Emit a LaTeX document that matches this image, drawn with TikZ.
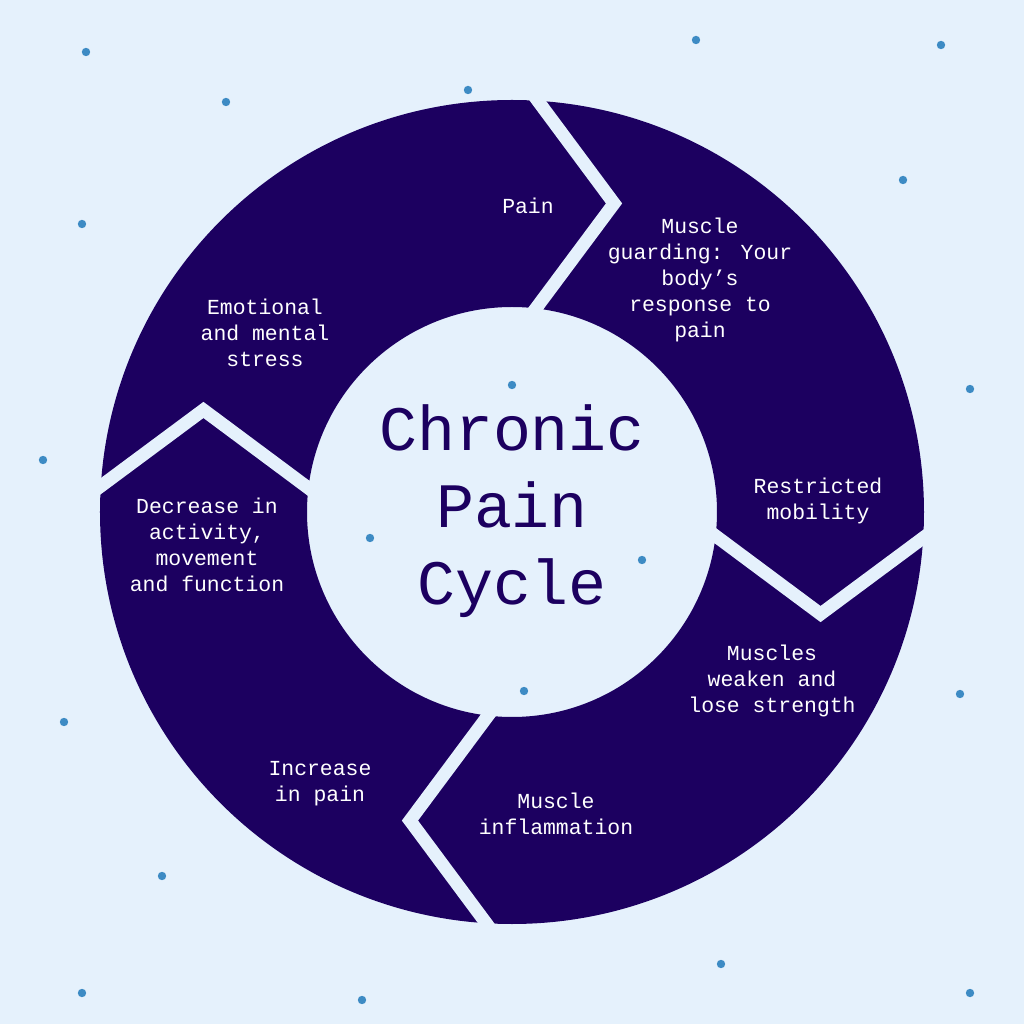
\documentclass[tikz,border=0pt]{standalone}
\usepackage{fontspec}
\setmainfont{Liberation Mono}
\usetikzlibrary{calc}
\definecolor{bgblue}{HTML}{E5F1FC}
\definecolor{ringnavy}{HTML}{1C0060}
\definecolor{dotblue}{HTML}{3D8BC4}

\begin{document}
\begin{tikzpicture}[%
        x=0.02cm, y=0.02cm,
        steptext/.style={text=white, font=\fontsize{12.2}{14.7}\selectfont, align=center, inner sep=0pt},
        titletext/.style={text=ringnavy, font=\fontsize{36}{43.7}\selectfont, align=center, inner sep=0pt},
        gapline/.style={draw=bgblue, line width=7.4pt, line join=miter}
      ]
      \fill[bgblue] (-512,-512) rectangle (512,512);
      \useasboundingbox (-512,-512) rectangle (512,512);
      \coordinate (c) at (0,0);
      % background dots
      \foreach \p in {(-426,460),(-286,410),(-44,422),(184,472),(429,467),(391,332),
        (-430,288),(458,123),(-469,52),(0,127),(-142,-26),(130,-48),(12,-179),
        (-448,-210),(448,-182),(-350,-364),(209,-452),(-430,-481),(-150,-488),(458,-481)}
        \fill[dotblue] \p circle (4.2);
      % ring and the four chevron gaps
      \fill[ringnavy, even odd rule] (c) circle (412) (c) circle (205);
      \foreach \k in {0,...,3} {
        \coordinate (out\k) at ({86.4-90*\k}:412);
        \coordinate (tip\k) at ({71.7-90*\k}:325);
        \coordinate (in\k) at ({83.3-90*\k}:205);
        \draw[gapline] ($(tip\k)!1.2!(out\k)$) -- (tip\k) -- ($(tip\k)!1.2!(in\k)$);
      }
      \node [titletext] (title) at (0,1) {Chronic\\Pain\\Cycle};
      \node [steptext] (pain) at (16,306) {Pain};
      \node [steptext] (guarding) at (188,232) {Muscle\\guarding: Your\\body’s\\response to\\pain};
      \node [steptext] (mobility) at (306,11) {Restricted\\mobility};
      \node [steptext] (weaken) at (260,-169) {Muscles\\weaken and\\lose strength};
      \node [steptext] (inflam) at (44,-302) {Muscle\\inflammation};
      \node [steptext] (increase) at (-192,-272) {Increase\\in pain};
      \node [steptext] (decrease) at (-305,-33) {Decrease in\\activity,\\movement\\and function};
      \node [steptext] (stress) at (-247,179) {Emotional\\and mental\\stress};
    \end{tikzpicture}
\end{document}
